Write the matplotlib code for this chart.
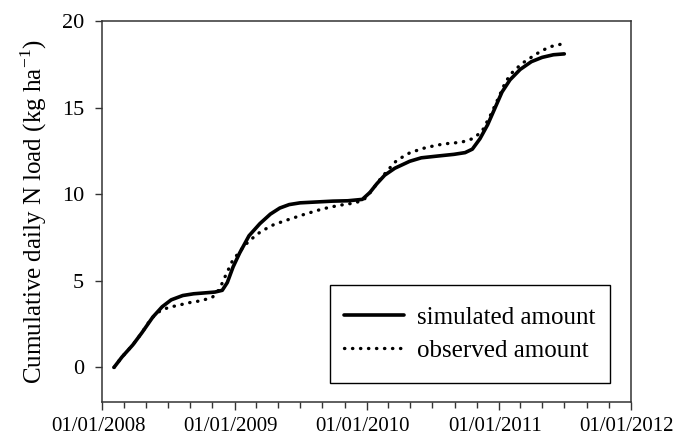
import matplotlib
matplotlib.use("Agg")
import matplotlib.pyplot as plt
import matplotlib.dates as mdates
import matplotlib.transforms as mtransforms
from matplotlib.patches import Rectangle
import pandas as pd

plt.rcParams["font.family"] = ["Liberation Serif", "DejaVu Serif"]
plt.rcParams["mathtext.fontset"] = "custom"
plt.rcParams["mathtext.rm"] = "Liberation Serif"

# Cumulative daily N load, simulated vs observed
sim_dates = [
    "2008-02-03", "2008-02-25", "2008-03-26", "2008-04-20", "2008-05-20",
    "2008-06-15", "2008-07-10", "2008-08-11", "2008-09-10", "2008-10-10",
    "2008-11-08", "2008-11-28", "2008-12-12", "2008-12-28", "2009-01-15",
    "2009-02-10", "2009-03-12", "2009-04-10", "2009-05-06", "2009-06-01",
    "2009-07-01", "2009-08-15", "2009-09-30", "2009-11-10", "2009-12-20",
    "2010-01-10", "2010-01-29", "2010-02-20", "2010-03-20", "2010-04-30",
    "2010-06-01", "2010-07-15", "2010-08-30", "2010-09-30", "2010-10-20",
    "2010-11-10", "2010-12-01", "2010-12-20", "2011-01-10", "2011-02-01",
    "2011-03-01", "2011-04-01", "2011-05-01", "2011-06-01", "2011-07-01",
]
sim_values = [
    0.0, 0.6, 1.3, 2.0, 2.9,
    3.5, 3.9, 4.15, 4.25, 4.3,
    4.35, 4.45, 4.9, 5.8, 6.6,
    7.6, 8.3, 8.85, 9.2, 9.4,
    9.5, 9.55, 9.6, 9.62, 9.7,
    10.1, 10.6, 11.1, 11.5, 11.9,
    12.1, 12.2, 12.3, 12.4, 12.6,
    13.2, 14.0, 14.9, 15.9, 16.6,
    17.2, 17.65, 17.9, 18.05, 18.1,
]

obs_dates = [
    "2008-02-03", "2008-02-25", "2008-03-26", "2008-04-20", "2008-05-15",
    "2008-06-05", "2008-07-01", "2008-08-01", "2008-09-01", "2008-10-01",
    "2008-11-01", "2008-11-20", "2008-12-05", "2008-12-25", "2009-01-15",
    "2009-02-10", "2009-03-15", "2009-04-20", "2009-06-01", "2009-07-15",
    "2009-09-01", "2009-10-15", "2009-12-01", "2009-12-25", "2010-01-15",
    "2010-02-01", "2010-03-01", "2010-03-25", "2010-05-01", "2010-06-15",
    "2010-08-01", "2010-09-20", "2010-10-20", "2010-11-15", "2010-12-10",
    "2011-01-01", "2011-01-20", "2011-02-10", "2011-03-10", "2011-04-15",
    "2011-05-20", "2011-06-20",
]
obs_values = [
    0.0, 0.6, 1.3, 2.0, 2.8,
    3.2, 3.45, 3.6, 3.75, 3.85,
    4.05, 4.5, 5.2, 6.1, 6.7,
    7.3, 7.85, 8.25, 8.55, 8.85,
    9.15, 9.35, 9.5, 9.7, 10.2,
    10.7, 11.4, 11.95, 12.4, 12.7,
    12.9, 13.0, 13.2, 13.6, 14.6,
    15.6, 16.5, 17.1, 17.6, 18.1,
    18.5, 18.65,
]

sim_x = pd.to_datetime(sim_dates)
obs_x = pd.to_datetime(obs_dates)

fig = plt.figure(figsize=(6.85, 4.37), dpi=100)
ax = fig.add_axes([0.149, 0.080, 0.772, 0.872])

ax.plot(sim_x, sim_values, color="black", lw=2.6, solid_capstyle="round",
        label="simulated amount")
ax.plot(obs_x, obs_values, color="black", lw=2.4, linestyle=(0, (0.1, 2.3)),
        dash_capstyle="round", label="observed amount")

ax.set_xlim(pd.Timestamp("2008-01-01"), pd.Timestamp("2012-01-01"))
ax.set_ylim(-2, 20)
ax.set_yticks([0, 5, 10, 15, 20])

ax.xaxis.set_major_locator(mdates.YearLocator())
ax.xaxis.set_minor_locator(mdates.MonthLocator(bymonth=[3, 5, 7, 9, 11]))
ax.xaxis.set_major_formatter(mdates.DateFormatter("%d/%m/%Y"))

ax.tick_params(axis="x", which="major", direction="out", length=6, width=1,
               labelsize=15, pad=5, color="#333333")
ax.tick_params(axis="x", which="minor", direction="out", length=4, width=1,
               color="#333333")
ax.tick_params(axis="y", direction="out", length=5, width=1, labelsize=16,
               pad=8, color="#333333")

# date labels sit a little left of their ticks
shift = mtransforms.ScaledTranslation(-4 / 100, 0, fig.dpi_scale_trans)
for lbl in ax.get_xticklabels():
    lbl.set_transform(lbl.get_transform() + shift)

for sp in ax.spines.values():
    sp.set_color("#333333")
    sp.set_linewidth(1.1)

ax.set_ylabel("Cumulative daily N load (kg ha$^{-1}$)", fontsize=18, labelpad=9)

# legend box: plain rectangle with more padding top/bottom than at the sides
box = (0.431, 0.05, 0.529, 0.257)
ax.add_patch(Rectangle(box[:2], box[2], box[3], transform=ax.transAxes,
                       facecolor="white", edgecolor="black", lw=1.0, zorder=4))
leg = ax.legend(loc="center", bbox_to_anchor=box, fontsize=18, frameon=False,
                handlelength=2.4, borderpad=0, labelspacing=0.4,
                handletextpad=0.5, borderaxespad=0)
leg.set_zorder(5)

fig.savefig("out.png", dpi=100)
